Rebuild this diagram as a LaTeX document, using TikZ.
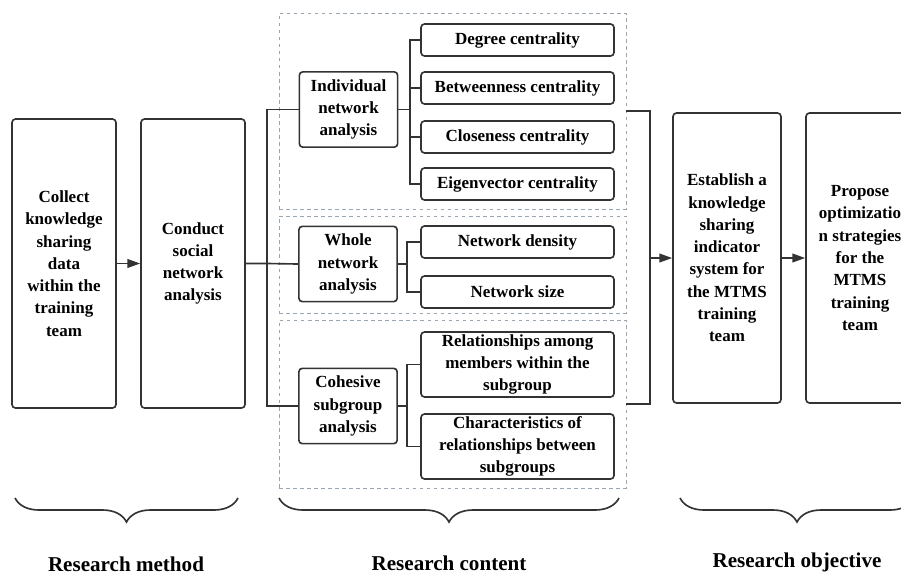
\documentclass[tikz,border=0pt]{standalone}
\usepackage{fontspec}
\setmainfont{Liberation Serif}
\usetikzlibrary{arrows.meta,decorations.pathreplacing,fit}
\definecolor{linegray}{rgb}{0.2,0.2,0.2}
\definecolor{dashgray}{rgb}{0.6,0.65,0.7}

\begin{document}
\begin{tikzpicture}[x=0.03cm,y=-0.03cm,
  box/.style={draw=linegray,line width=1.4pt,rounded corners=3pt,inner sep=0pt,
    align=center,font=\fontsize{14.5}{19}\selectfont\bfseries},
  stepcol/.style={box,minimum width=3.12cm,minimum height=8.67cm},
  goalcol/.style={box,minimum width=3.24cm,minimum height=8.7cm},
  topic/.style={box,minimum width=2.95cm,minimum height=2.26cm},
  leaf/.style={box,minimum width=5.79cm,minimum height=0.96cm},
  bigleaf/.style={box,minimum width=5.79cm,minimum height=1.95cm},
  dbox/.style={draw=dashgray,dashed,line width=0.7pt,inner sep=0pt},
  conn/.style={draw=linegray,line width=1.4pt},
  arr/.style={conn,-{Triangle[length=11pt,width=7.5pt]}},
  brc/.style={draw=linegray,line width=1.4pt,decorate,
    decoration={brace,mirror,amplitude=0.72cm}},
  lbl/.style={anchor=base,font=\fontsize{18}{22}\selectfont\bfseries}]

\clip (0,0) rectangle (901,576);

% dashed groups
\node[dbox,fit={(279,13) (626,209)}] (dind) {};
\node[dbox,fit={(279,216) (626,313)}] (dwho) {};
\node[dbox,fit={(279,320) (626,488)}] (dcoh) {};

% method
\node[stepcol] (collect) at (64,263.5) {Collect\\knowledge\\sharing\\data\\within the\\training\\team};
\node[stepcol] (conduct) at (193,263.5) {Conduct\\social\\network\\analysis};

% content
\node[topic] (indiv) at (348.5,109.5) {Individual\\network\\analysis};
\node[topic] (whole) at (348,264) {Whole\\network\\analysis};
\node[topic] (cohes) at (348,406) {Cohesive\\subgroup\\analysis};

\node[leaf] (degree) at (517.5,40) {Degree centrality};
\node[leaf] (betw) at (517.5,88) {Betweenness centrality};
\node[leaf] (close) at (517.5,137) {Closeness centrality};
\node[leaf] (eigen) at (517.5,184) {Eigenvector centrality};
\node[leaf] (dens) at (517.5,242) {Network density};
\node[leaf] (size) at (517.5,292) {Network size};
\node[bigleaf] (relat) at (517.5,364.5) {Relationships among\\members within the\\subgroup};
\node[bigleaf] (charac) at (517.5,446.5) {Characteristics of\\relationships between\\subgroups};

% objective
\node[goalcol] (establish) at (727,258) {Establish a\\knowledge\\sharing\\indicator\\system for\\the MTMS\\training\\team};
\node[goalcol] (propose) at (860,258) {Propose\\optimizatio\\n strategies\\for the\\MTMS\\training\\team};

\coordinate (lj) at (267,263.5);
\coordinate (it) at (410,109.5);
\coordinate (wt) at (407,264);
\coordinate (ct) at (407,406);
\coordinate (rj) at (650,258);

\draw[arr] (collect) -- (conduct);
\draw[conn] (conduct.east) -- (lj) -- (whole.west);
\draw[conn] (indiv.west) -| (lj) |- (cohes.west);

\draw[conn] (indiv.east) -- (it);
\foreach \n in {degree,betw,close,eigen}
  \draw[conn] (\n.west) -| (it);
\draw[conn] (whole.east) -- (wt);
\foreach \n in {dens,size}
  \draw[conn] (\n.west) -| (wt);
\draw[conn] (cohes.east) -- (ct);
\foreach \n in {relat,charac}
  \draw[conn] (\n.west) -| (ct);

\draw[conn] (dind.east) -| (rj) |- (dcoh.east);
\draw[arr] (rj) -- (establish);
\draw[arr] (establish) -- (propose);

% braces
\draw[brc] (15,498) -- (238,498);
\draw[brc] (279,498) -- (619,498);
\draw[brc] (680,498) -- (914,498);

\node[lbl] (method) at (126,571) {Research method};
\node[lbl] (content) at (449,570) {Research content};
\node[lbl] (objective) at (797,567) {Research objective};
\end{tikzpicture}
\end{document}
